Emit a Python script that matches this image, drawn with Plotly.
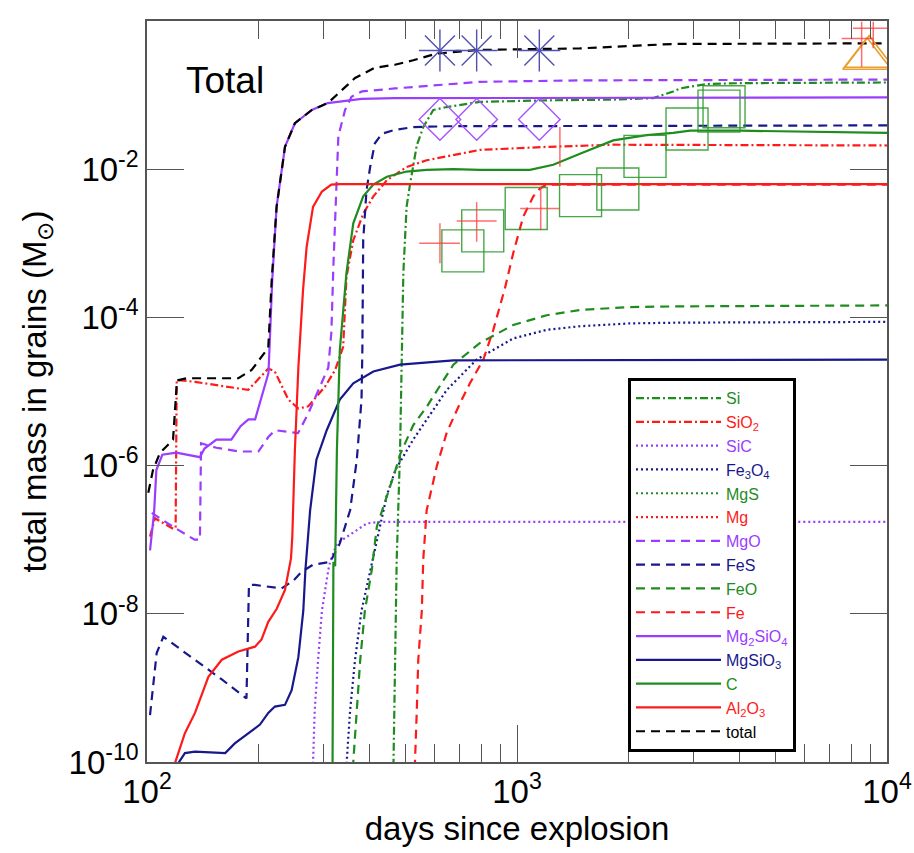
import plotly.graph_objects as go

# ---------------- colours ----------------
GREEN = "#1E8C1E"
RED = "#FF1A1A"
PURPLE = "#9A3DFF"
NAVY = "#18188C"
BLACK = "#000000"

# ---------------- data (days since explosion, mass in Msun) ----------------
si_days = [462, 473, 483, 488, 493, 503, 514, 536, 558, 594, 646, 793, 1203, 1820, 2335, 2643, 2757, 3256, 4008, 10000]
si_mass = [3.2e-11, 5.4e-8, 1.6e-6, 3.6e-5, 4.0e-4, 3.1e-3, 6.3e-3, 0.021, 0.037, 0.063, 0.069, 0.081, 0.085, 0.087, 0.091, 0.112, 0.123, 0.141, 0.145, 0.148]

sio2_days = [101.9, 105.1, 117.8, 119.5, 120.3, 124, 134.8, 187.8, 212.7, 221.6, 240.9, 256.5, 272.7, 303, 322.5, 339, 346, 361, 384, 409, 445, 503, 570, 688, 793, 1203, 1817, 10000]
sio2_mass = [1.1e-7, 1.95e-7, 1.4e-7, 1.45e-7, 1.41e-5, 1.41e-5, 1.35e-5, 1.05e-5, 2.04e-5, 1.86e-5, 7.8e-6, 5.9e-6, 6.3e-6, 1.17e-5, 1.95e-5, 4.0e-5, 3.5e-4, 1.1e-3, 2.5e-3, 4.3e-3, 7.1e-3, 0.0107, 0.0132, 0.0158, 0.0182, 0.020, 0.0214, 0.0209]

sic_days = [279, 281.5, 284, 290, 297, 309, 312.5, 326, 346.5, 393, 426, 10000]
sic_mass = [3.2e-11, 1e-10, 5e-10, 2.4e-9, 1.1e-8, 3.9e-8, 5.0e-8, 8.9e-8, 1.1e-7, 1.66e-7, 1.74e-7, 1.74e-7]

fe3o4_days = [343, 346.5, 354, 365, 380, 401, 409, 445, 470, 483, 524, 646, 778, 977, 1203, 1480, 2020, 2757, 10000]
fe3o4_mass = [3.2e-11, 1e-10, 5e-10, 2.4e-9, 1.1e-8, 3.9e-8, 5.9e-8, 4.0e-7, 8.9e-7, 1.12e-6, 2.24e-6, 1.05e-5, 2.7e-5, 5.2e-5, 6.8e-5, 7.6e-5, 8.3e-5, 8.5e-5, 8.7e-5]

mgs_days = [100, 10000]
mgs_mass = [1e-12, 1e-12]

mg_days = [100, 10000]
mg_mass = [1e-12, 1e-12]

mgo_days = [103, 117.5, 134.5, 139, 140, 154, 178, 200, 213, 222, 256, 273, 309, 315, 319, 324, 329, 343, 357, 381, 468, 793, 1477, 10000]
mgo_mass = [2.3e-7, 1.5e-7, 1.0e-7, 1.0e-7, 2.0e-6, 1.74e-6, 1.55e-6, 1.55e-6, 2.45e-6, 3.0e-6, 2.75e-6, 5.1e-6, 2.1e-5, 6.3e-5, 5.0e-4, 3.8e-3, 0.028, 0.063, 0.095, 0.112, 0.123, 0.151, 0.158, 0.162]

fes_days = [101.9, 106.2, 110.7, 134.8, 159.3, 185.7, 188.6, 195.8, 231, 248.6, 262, 281, 312.5, 332, 354, 369, 380, 382, 384, 392, 401, 413, 431, 468, 524, 646, 10000]
fes_mass = [4.3e-10, 2.95e-9, 4.9e-9, 2.4e-9, 1.3e-9, 7.2e-10, 2.45e-8, 2.45e-8, 2.2e-8, 2.8e-8, 3.7e-8, 4.6e-8, 5.0e-8, 8.9e-8, 2.5e-7, 1.2e-6, 7.8e-6, 3.6e-5, 1.1e-3, 5.2e-3, 0.0107, 0.0224, 0.030, 0.034, 0.037, 0.038, 0.039]

feo_days = [358, 361, 369, 377, 388, 405, 418, 454, 470, 483, 524, 570, 619, 673, 793, 977, 1203, 1480, 2020, 2757, 10000]
feo_mass = [3.2e-11, 1e-10, 5e-10, 2.4e-9, 1.1e-8, 3.9e-8, 1.5e-7, 5.0e-7, 8.9e-7, 1.41e-6, 3.5e-6, 6.2e-6, 1.17e-5, 2.3e-5, 4.5e-5, 7.9e-5, 1.07e-4, 1.26e-4, 1.38e-4, 1.41e-4, 1.45e-4]

fe_days = [528, 530, 536, 541, 553, 558, 570, 594, 607, 646, 687, 701, 746, 811, 863, 928, 977, 1040, 1107, 1154, 1203, 10000]
fe_mass = [3.2e-11, 1e-10, 5e-10, 2.4e-9, 1.1e-8, 5.4e-8, 2.5e-7, 6.5e-7, 9.8e-7, 2.8e-6, 5.6e-6, 6.9e-6, 1.29e-5, 2.7e-5, 6.8e-5, 2.5e-4, 7.4e-4, 2.3e-3, 4.3e-3, 5.5e-3, 6.2e-3, 6.2e-3]

mg2sio4_days = [101.9, 104.5, 106, 110, 120, 139, 143, 154, 169, 179, 188, 196, 213, 218, 224, 236, 251, 279, 308, 380, 468, 10000]
mg2sio4_mass = [7.2e-8, 2.3e-7, 8.7e-7, 1.4e-6, 1.5e-6, 1.3e-6, 1.7e-6, 2.24e-6, 2.24e-6, 3.4e-6, 4.2e-6, 4.2e-6, 1.78e-5, 3.2e-4, 3.1e-3, 0.020, 0.0417, 0.063, 0.078, 0.089, 0.091, 0.093]

mgsio3_days = [116.5, 126.6, 134.8, 162.7, 172.7, 187.8, 202, 212.7, 221.6, 236, 246, 256.5, 264.5, 268, 276, 287, 306, 332, 361, 409, 483, 673, 10000]
mgsio3_mass = [7e-11, 1.32e-10, 1.38e-10, 1.32e-10, 1.78e-10, 2.45e-10, 3.2e-10, 4.6e-10, 5.6e-10, 5.9e-10, 9.3e-10, 2.6e-9, 1.1e-8, 3.9e-8, 2.5e-7, 1.2e-6, 3.0e-6, 7.8e-6, 1.29e-5, 1.86e-5, 2.3e-5, 2.63e-5, 2.7e-5]

c_days = [317, 319, 322.5, 326, 332, 339, 346, 361, 384, 409, 445, 503, 570, 673, 793, 1084, 1253, 1480, 1820, 2241, 2643, 2935, 4008, 10000]
c_mass = [3e-11, 5e-8, 4.4e-8, 1.6e-6, 3.6e-5, 1.38e-4, 4.0e-4, 1.86e-3, 4.3e-3, 6.2e-3, 7.9e-3, 9.3e-3, 9.8e-3, 0.0100, 9.8e-3, 9.8e-3, 0.0115, 0.0162, 0.0245, 0.0288, 0.0309, 0.0331, 0.0331, 0.0309]

al2o3_days = [116.5, 126.6, 134.8, 146.5, 159.3, 176.6, 195.8, 204, 212.7, 224.2, 236, 245, 247, 251, 256.5, 264, 270, 281, 297, 315, 332, 10000]
al2o3_mass = [7e-11, 2.45e-10, 4.6e-10, 1.41e-9, 2.4e-9, 3.1e-9, 3.6e-9, 4.5e-9, 7.8e-9, 1.17e-8, 2.1e-8, 5.6e-8, 1.1e-7, 1.6e-6, 2.1e-5, 2.3e-4, 8.9e-4, 3.1e-3, 5.0e-3, 6.2e-3, 6.3e-3, 6.3e-3]

total_days = [100.8, 103.8, 108.4, 117.6, 120.5, 128, 176.6, 191.8, 212.7, 217.3, 224, 236, 251, 279, 308, 336, 365, 413, 468, 524, 606, 793, 1477, 2643, 10000]
total_mass = [4.3e-7, 8.7e-7, 1.48e-6, 2.24e-6, 1.41e-5, 1.51e-5, 1.51e-5, 1.95e-5, 3.9e-5, 3.2e-4, 3.1e-3, 0.020, 0.0417, 0.063, 0.078, 0.117, 0.17, 0.234, 0.257, 0.295, 0.363, 0.407, 0.427, 0.49, 0.50]

# observations
ast_days = [619, 778, 1149]
ast_mass = [0.40, 0.40, 0.40]

dia_days = [619, 778, 1149]
dia_mass = [0.047, 0.047, 0.047]

sq_days = [714, 808, 1059, 1485, 1873, 2218, 2881, 3515, 3627]
sq_mass = [7.9e-4, 1.47e-3, 2.95e-3, 4.4e-3, 5.4e-3, 0.0149, 0.0349, 0.0607, 0.0695]

tri_days = [8830, 8950]
tri_mass = [0.31, 0.33]

cross_days = [619, 778, 1159, 1306, 8540, 9180]
cross_mass = [1.0e-3, 2.0e-3, 2.96e-3, 0.02, 0.58, 0.80]
cross_days_lo = [544, 687, 1020, 1306, 7545, 8091]
cross_days_hi = [701, 881, 1306, 1306, 9183, 10000]
cross_mass_lo = [5.4e-4, 1.05e-3, 1.5e-3, 0.0108, 0.24, 0.43]
cross_mass_hi = [1.86e-3, 3.6e-3, 5.8e-3, 0.037, 0.98, 0.98]

x_tickvals = [100, 1000, 10000]
x_ticktext = ["10<sup>2</sup>", "10<sup>3</sup>", "10<sup>4</sup>"]
x_minor = [200, 300, 400, 500, 600, 700, 800, 900, 2000, 3000, 4000, 5000, 6000, 7000, 8000, 9000]
y_tickvals = [1, 1e-2, 1e-4, 1e-6, 1e-8, 1e-10]
y_ticktext = ["10<sup>0</sup>", "10<sup>-2</sup>", "10<sup>-4</sup>", "10<sup>-6</sup>", "10<sup>-8</sup>", "10<sup>-10</sup>"]

# ---------------- styles ----------------
DASHDOT = "8px,3px,2px,3px"
DOT = "2px,3px"
DASH = "9px,6px"

series = [
    ("Si", si_days, si_mass, GREEN, DASHDOT),
    ("SiO<sub>2</sub>", sio2_days, sio2_mass, RED, DASHDOT),
    ("SiC", sic_days, sic_mass, PURPLE, DOT),
    ("Fe<sub>3</sub>O<sub>4</sub>", fe3o4_days, fe3o4_mass, NAVY, DOT),
    ("MgS", mgs_days, mgs_mass, GREEN, DOT),
    ("Mg", mg_days, mg_mass, RED, DOT),
    ("MgO", mgo_days, mgo_mass, PURPLE, DASH),
    ("FeS", fes_days, fes_mass, NAVY, DASH),
    ("FeO", feo_days, feo_mass, GREEN, DASH),
    ("Fe", fe_days, fe_mass, RED, DASH),
    ("Mg<sub>2</sub>SiO<sub>4</sub>", mg2sio4_days, mg2sio4_mass, PURPLE, "solid"),
    ("MgSiO<sub>3</sub>", mgsio3_days, mgsio3_mass, NAVY, "solid"),
    ("C", c_days, c_mass, GREEN, "solid"),
    ("Al<sub>2</sub>O<sub>3</sub>", al2o3_days, al2o3_mass, RED, "solid"),
    ("total", total_days, total_mass, BLACK, DASH),
]

fig = go.Figure()

for name, xs, ys, col, dash in series:
    fig.add_trace(go.Scatter(
        x=xs, y=ys, mode="lines",
        name=f'<span style="color:{col}">{name}</span>',
        line=dict(color=col, width=2.2, dash=dash),
        showlegend=True,
    ))

# observation markers
fig.add_trace(go.Scatter(x=sq_days, y=sq_mass, mode="markers", showlegend=False,
                         marker=dict(symbol="square-open", size=42, color="rgba(40,150,40,0.85)",
                                     line=dict(width=1.4, color="rgba(40,150,40,0.85)"))))
fig.add_trace(go.Scatter(x=dia_days, y=dia_mass, mode="markers", showlegend=False,
                         marker=dict(symbol="diamond-open", size=32, color="#A655FF",
                                     line=dict(width=1.4, color="#A655FF"))))
fig.add_trace(go.Scatter(x=ast_days, y=ast_mass, mode="markers", showlegend=False,
                         marker=dict(symbol="cross-thin-open", size=30, color="#5050B0",
                                     line=dict(width=1.4, color="#5050B0"))))
fig.add_trace(go.Scatter(x=ast_days, y=ast_mass, mode="markers", showlegend=False,
                         marker=dict(symbol="x-thin-open", size=30, color="#5050B0",
                                     line=dict(width=1.4, color="#5050B0"))))
fig.add_trace(go.Scatter(x=tri_days, y=tri_mass, mode="markers", showlegend=False,
                         marker=dict(symbol="triangle-up-open", size=42, color="#E8A030",
                                     line=dict(width=1.6, color="#E8A030"))))

plus_x = [h - c for h, c in zip(cross_days_hi, cross_days)]
minus_x = [c - l for l, c in zip(cross_days_lo, cross_days)]
plus_y = [h - c for h, c in zip(cross_mass_hi, cross_mass)]
minus_y = [c - l for l, c in zip(cross_mass_lo, cross_mass)]
fig.add_trace(go.Scatter(
    x=cross_days, y=cross_mass, mode="markers", showlegend=False,
    marker=dict(size=1, color="rgba(255,60,60,0)"),
    error_x=dict(type="data", symmetric=False, array=plus_x, arrayminus=minus_x,
                 width=0, thickness=1.5, color="rgba(255,60,60,0.75)"),
    error_y=dict(type="data", symmetric=False, array=plus_y, arrayminus=minus_y,
                 width=0, thickness=1.5, color="rgba(255,60,60,0.75)"),
))

FONT = "Liberation Sans, Arial, Helvetica, sans-serif"
AXCOL = "#555555"

fig.update_layout(
    template="none",
    width=914, height=853,
    margin=dict(l=147, r=27, t=21, b=91),
    paper_bgcolor="white", plot_bgcolor="white",
    font=dict(family=FONT, color="black"),
    showlegend=True,
    legend=dict(
        x=0.65, y=0.518, xanchor="left", yanchor="top",
        bgcolor="white", bordercolor="black", borderwidth=3,
        font=dict(size=16, family=FONT),
        itemwidth=85, tracegroupgap=0,
    ),
    annotations=[dict(text="Total", xref="paper", yref="paper", x=0.05, y=0.92,
                      xanchor="left", yanchor="middle", showarrow=False,
                      font=dict(size=37, family=FONT, color="black"))],
)

fig.update_xaxes(
    type="log", range=[2, 4], showgrid=False, zeroline=False,
    showline=True, linecolor=AXCOL, linewidth=1.5, mirror="ticks",
    ticks="inside", ticklen=37, tickwidth=1.3, tickcolor=AXCOL,
    tickmode="array", tickvals=x_tickvals, ticktext=x_ticktext,
    tickfont=dict(size=33, family=FONT, color="black"),
    minor=dict(ticks="inside", ticklen=18, tickwidth=1.3, tickcolor=AXCOL,
               tickmode="array", tickvals=x_minor, showgrid=False),
    title=dict(text="days since explosion", font=dict(size=33, family=FONT, color="black"), standoff=8),
    automargin=False,
)
fig.update_yaxes(
    type="log", range=[-10, 0], showgrid=False, zeroline=False,
    showline=True, linecolor=AXCOL, linewidth=1.5, mirror="ticks",
    ticks="inside", ticklen=37, tickwidth=1.3, tickcolor=AXCOL,
    tickmode="array", tickvals=y_tickvals, ticktext=y_ticktext,
    tickfont=dict(size=33, family=FONT, color="black"),
    title=dict(text="total mass in grains (M<sub>⊙</sub>)", font=dict(size=33, family=FONT, color="black"), standoff=12),
    automargin=False,
)

fig.write_html("out.html", config={"displayModeBar": False},
               post_script="document.body.style.margin='0px';document.body.style.overflow='hidden';")
